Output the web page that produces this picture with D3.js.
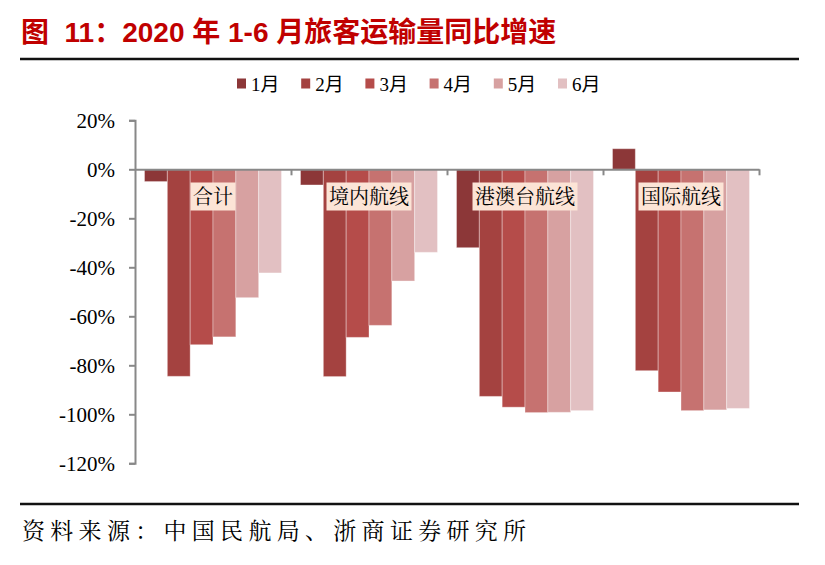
<!DOCTYPE html>
<html>
<head>
<meta charset="utf-8">
<script src="https://cdn.jsdelivr.net/npm/d3@7"></script>
<style>
  body { margin: 0; background: #fff; }
  svg { display: block; }
  .serif { font-family: "Liberation Serif", "Times New Roman", Times, "Noto Sans CJK SC", serif; }
</style>
</head>
<body>
<script>
// data
const categories = ["合计", "境内航线", "港澳台航线", "国际航线"];
const months = ["1月", "2月", "3月", "4月", "5月", "6月"];
const growth合计 = [-5.0, -84.5, -71.6, -68.4, -52.4, -42.3];
const growth境内 = [-6.4, -84.6, -68.6, -63.7, -45.6, -33.9];
const growth港澳台 = [-32.0, -92.7, -97.1, -99.3, -99.2, -98.5];
const growth国际 = [8.4, -82.2, -90.9, -98.5, -98.2, -97.6];
const series = [growth合计, growth境内, growth港澳台, growth国际];
const yTicks = [20, 0, -20, -40, -60, -80, -100, -120];
const colors = ["#8c3738", "#a44240", "#b54c4a", "#c67270", "#d7a1a1", "#e2c0c2"];

const width = 825;
const height = 565;
const cjk = "'Noto Serif CJK SC', 'Noto Sans CJK SC', sans-serif";

const svg = d3.select("body").append("svg")
  .attr("width", width)
  .attr("height", height);

// title + rules
svg.append("text")
  .attr("x", 21)
  .attr("y", 42)
  .attr("fill", "#c00000")
  .attr("font-family", "'Liberation Sans', Arial, 'Noto Sans CJK SC', sans-serif")
  .attr("font-weight", "bold")
  .attr("font-size", 28)
  .attr("xml:space", "preserve")
  .text("图  11：2020 年 1-6 月旅客运输量同比增速");

svg.append("line")
  .attr("x1", 20).attr("x2", 799)
  .attr("y1", 59).attr("y2", 59)
  .attr("stroke", "#111").attr("stroke-width", 2.5);

svg.append("line")
  .attr("x1", 20).attr("x2", 799)
  .attr("y1", 504).attr("y2", 504)
  .attr("stroke", "#111").attr("stroke-width", 2.5);

svg.append("text")
  .attr("x", 22)
  .attr("y", 539)
  .attr("fill", "#000")
  .attr("font-family", cjk)
  .attr("font-size", 23)
  .attr("letter-spacing", 5.3)
  .text("资料来源：中国民航局、浙商证券研究所");

// scales
const x0 = d3.scaleBand().domain(categories).range([135, 759]).padding(0);
const x1 = d3.scaleBand().domain(months).range([9.5, x0.bandwidth() - 9.5]).padding(0);
const y = d3.scaleLinear().domain([-120, 20]).range([463.3, 120.3]);

// legend
const legend = svg.append("g").attr("class", "legend");
const legendItem = legend.selectAll("g")
  .data(months)
  .enter()
  .append("g")
  .attr("transform", (d, i) => `translate(${237 + i * 64.2} 0)`);

legendItem.append("rect")
  .attr("y", 78.5)
  .attr("width", 9)
  .attr("height", 10)
  .attr("fill", (d, i) => colors[i]);

legendItem.append("text")
  .attr("class", "serif")
  .attr("x", 14)
  .attr("y", 91)
  .attr("font-size", 19)
  .attr("fill", "#000")
  .text((d) => d);

// bars
const groups = svg.selectAll("g.category")
  .data(categories)
  .enter()
  .append("g")
  .attr("class", "category")
  .attr("transform", (d) => `translate(${x0(d)} 0)`);

groups.selectAll("rect")
  .data((d, i) => series[i].map((v, j) => ({ month: months[j], value: v, idx: j })))
  .enter()
  .append("rect")
  .attr("x", (d) => x1(d.month))
  .attr("width", x1.bandwidth())
  .attr("y", (d) => y(Math.max(0, d.value)))
  .attr("height", (d) => Math.abs(y(d.value) - y(0)))
  .attr("fill", (d) => colors[d.idx])
  .attr("stroke", "rgba(255,255,255,0.35)")
  .attr("stroke-width", 1);

// y axis
const yAxis = d3.axisLeft(y)
  .tickValues(yTicks)
  .tickFormat((d) => `${d}%`)
  .tickSize(6)
  .tickSizeOuter(6)
  .tickPadding(14);

const gy = svg.append("g")
  .attr("transform", "translate(135 0)")
  .call(yAxis)
  .attr("font-family", null)
  .attr("font-size", null);

gy.select(".domain").attr("stroke", "#888").attr("stroke-width", 2);
gy.selectAll(".tick line").attr("stroke", "#888").attr("stroke-width", 2);
gy.selectAll(".tick text")
  .attr("class", "serif")
  .attr("font-size", 21)
  .attr("fill", "#000")
  .attr("dy", "0.34em");

// x axis with boundary ticks
const xb = d3.scaleLinear().domain([0, categories.length]).range([135, 759]);
const xAxis = d3.axisBottom(xb)
  .tickValues(categories.map((d, i) => i + 1))
  .tickFormat("")
  .tickSize(6)
  .tickSizeOuter(0);

const gx = svg.append("g")
  .attr("transform", `translate(0 ${y(0)})`)
  .call(xAxis);

gx.select(".domain").attr("stroke", "#888").attr("stroke-width", 2);
gx.selectAll(".tick line").attr("stroke", "#888").attr("stroke-width", 2);

// category labels
const labels = svg.selectAll("g.label")
  .data(categories)
  .enter()
  .append("g")
  .attr("class", "label")
  .attr("transform", (d) => `translate(${x0(d) + x0.bandwidth() / 2} 196.5)`);

labels.append("rect").attr("fill", "#fce4d6");

const labelText = labels.append("text")
  .attr("text-anchor", "middle")
  .attr("dy", "0.36em")
  .attr("font-family", cjk)
  .attr("font-size", 20)
  .attr("fill", "#000")
  .text((d) => d);

labelText.each(function () {
  const w = this.getComputedTextLength();
  d3.select(this.previousSibling)
    .attr("x", -w / 2 - 2.5)
    .attr("width", w + 5)
    .attr("y", -14)
    .attr("height", 28);
});
</script>
</body>
</html>
